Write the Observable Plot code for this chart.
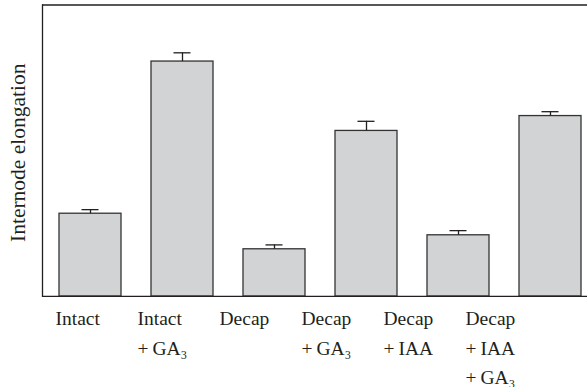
<!DOCTYPE html>
<html>
<head>
<meta charset="utf-8">
<script src="https://cdn.jsdelivr.net/npm/d3@7"></script>
<script src="https://cdn.jsdelivr.net/npm/@observablehq/plot@0.6"></script>
<style>
  html, body { margin: 0; padding: 0; background: white; overflow: hidden; }
  #chart svg { display: block; }
</style>
</head>
<body>
<div id="chart"></div>
<script>
const treatments = ["Intact", "Intact + GA3", "Decap", "Decap + GA3", "Decap + IAA", "Decap + IAA + GA3"];
const tickLabels = ["Intact", "Intact\n+\u2009GA\u2083", "Decap", "Decap\n+\u2009GA\u2083", "Decap\n+\u2009IAA", "Decap\n+\u2009IAA\n+\u2009GA\u2083"];
const values = [28.4, 80.6, 16.2, 56.8, 21.0, 61.9];
const errors = [1.4, 3.0, 1.5, 3.3, 1.6, 1.5];
const yLabel = "Internode elongation";

const data = treatments.map((t, i) => ({t, v: values[i], e: errors[i], label: tickLabels[i]}));
const ink = "#231f20";
const font = "'Liberation Serif', 'DejaVu Serif', serif";

const main = Plot.plot({
  width: 587, height: 297,
  marginLeft: 42, marginRight: 0, marginTop: 4.5, marginBottom: 1,
  style: {fontFamily: font, color: ink, background: "white"},
  x: {domain: treatments, range: [42, 596.7], paddingInner: 0.33, paddingOuter: 0.171, axis: null},
  y: {domain: [0, 100], axis: null},
  marks: [
    Plot.barY(data, {x: "t", y: "v", fill: "#d1d3d4", stroke: "#333", strokeWidth: 1.3}),
    Plot.ruleX(data, {x: "t", y1: "v", y2: d => d.v + d.e, stroke: ink, strokeWidth: 1.3}),
    Plot.tickY(data, {x: "t", y: d => d.v + d.e, insetLeft: 22.5, insetRight: 22.5, stroke: ink, strokeWidth: 1.3}),
    Plot.ruleY([0, 100], {stroke: ink, strokeWidth: 1.3}),
    Plot.frame({anchor: "left", stroke: ink, strokeWidth: 1.3}),
    Plot.text([yLabel], {frameAnchor: "left", textAnchor: "middle", lineAnchor: "middle", rotate: -90, dx: -24, dy: 2, fontSize: 21.5, fill: ink})
  ]
});

const labels = Plot.plot({
  width: 587, height: 90,
  marginLeft: 0, marginRight: 0, marginTop: 7, marginBottom: 0,
  style: {fontFamily: font, color: ink, background: "white"},
  x: {type: "point", domain: treatments, range: [54.3, 466], padding: 0, axis: null},
  marks: [
    Plot.text(data, {x: "t", text: "label", frameAnchor: "top", lineAnchor: "top", textAnchor: "start", lineHeight: 1.5, fontSize: 19.5, fill: ink})
  ]
});

const el = document.getElementById("chart");
el.append(main, labels);
</script>
</body>
</html>
